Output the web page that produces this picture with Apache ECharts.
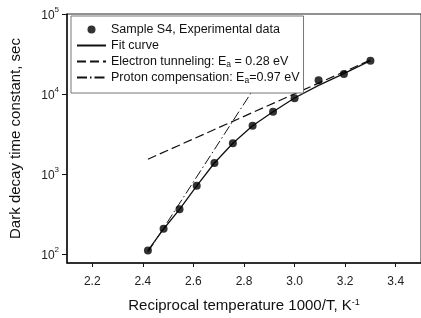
<!DOCTYPE html>
<html>
<head>
<meta charset="utf-8">
<script src="https://cdn.jsdelivr.net/npm/echarts@6/dist/echarts.min.js"></script>
<style>
html,body{margin:0;padding:0;background:#fff;}
#main{width:421px;height:318px;}
</style>
</head>
<body>
<div id="main"></div>
<script>
// experimental points (1000/T, sec)
var expX = [2.42, 2.482, 2.545, 2.613, 2.683, 2.756, 2.834, 2.915, 3.0, 3.095, 3.195, 3.30];
var expY = [110, 207, 362, 714, 1373, 2421, 4018, 6010, 8830, 14800, 17800, 26100];
// fit curve
var fitY = [110, 205, 360, 710, 1370, 2420, 4000, 6000, 8900, 12800, 18000, 26100];
// electron tunneling, Ea = 0.28 eV
var elX = [2.42, 3.30];
var elY = [1530, 26600];
// proton compensation, Ea = 0.97 eV
var prX = [2.42, 2.95];
var prY = [105, 40700];

function pairs(xs, ys) {
    var out = [];
    for (var i = 0; i < xs.length; i++) {
        out.push([xs[i], ys[i]]);
    }
    return out;
}

var font = 'Liberation Sans, Arial, sans-serif';
var noDot = {color: 'rgba(0,0,0,0)', borderWidth: 0};
var myChart = echarts.init(document.getElementById('main'));
myChart.setOption({
    animation: false,
    grid: {
        left: 66, top: 14, right: -3, bottom: 55,
        show: true, borderColor: '#222', borderWidth: 1
    },
    legend: {
        orient: 'vertical',
        left: 71, top: 16,
        itemWidth: 29, itemHeight: 8, itemGap: 1,
        padding: [6, 4, 8, 5],
        backgroundColor: '#fff',
        borderColor: '#777', borderWidth: 1,
        textStyle: {
            fontFamily: font, fontSize: 12.5, color: '#111', lineHeight: 15,
            rich: {
                n: {fontFamily: font, fontSize: 12.5, color: '#111', lineHeight: 15},
                s: {fontFamily: font, fontSize: 8.5, color: '#111', verticalAlign: 'bottom', lineHeight: 11}
            }
        },
        formatter: function (name) {
            if (name.indexOf('Electron') === 0) return '{n|Electron tunneling: E}{s|a}{n| = 0.28 eV}';
            if (name.indexOf('Proton') === 0) return '{n|Proton compensation: E}{s|a}{n|=0.97 eV}';
            return name;
        },
        data: [
            'Sample S4, Experimental data',
            {name: 'Fit curve', itemStyle: noDot},
            {name: 'Electron tunneling', itemStyle: noDot},
            {name: 'Proton compensation', itemStyle: noDot}
        ]
    },
    xAxis: {
        type: 'value',
        min: 2.1, max: 3.5, splitNumber: 7,
        name: '{n|Reciprocal temperature 1000/T, K}{s|-1}',
        nameLocation: 'middle', nameGap: 35,
        nameTextStyle: {
            rich: {
                n: {fontFamily: font, fontSize: 15, color: '#111'},
                s: {fontFamily: font, fontSize: 9, color: '#111', verticalAlign: 'top'}
            }
        },
        axisLine: {lineStyle: {color: '#111', width: 1.5}},
        axisTick: {inside: false, length: 4, lineStyle: {color: '#111'}},
        axisLabel: {
            fontFamily: font, fontSize: 12, color: '#222', margin: 13,
            showMinLabel: false, showMaxLabel: false,
            formatter: function (v) { return v.toFixed(1); }
        },
        splitLine: {show: false}
    },
    yAxis: {
        type: 'log',
        min: 77, max: 100000,
        name: 'Dark decay time constant, sec',
        nameLocation: 'middle', nameGap: 44,
        nameTextStyle: {fontFamily: font, fontSize: 15, color: '#111'},
        axisLine: {show: true, lineStyle: {color: '#111', width: 1.5}},
        axisTick: {inside: false, length: 5, lineStyle: {color: '#111'}},
        axisLabel: {
            showMinLabel: false, margin: 8,
            formatter: function (v) {
                return '{b|10}{e|' + Math.round(Math.log10(v)) + '}';
            },
            rich: {
                b: {fontFamily: font, fontSize: 12, color: '#222', padding: [4, 0, 0, 0]},
                e: {fontFamily: font, fontSize: 8, color: '#222', verticalAlign: 'top'}
            }
        },
        splitLine: {show: false}
    },
    series: [
        {
            name: 'Fit curve',
            type: 'line',
            symbol: 'none',
            data: pairs(expX, fitY),
            lineStyle: {color: '#111', width: 1.3},
            itemStyle: {color: '#111'},
            z: 3
        },
        {
            name: 'Electron tunneling',
            type: 'line',
            symbol: 'none',
            data: pairs(elX, elY),
            lineStyle: {color: '#111', width: 1.2, type: [9, 4]},
            itemStyle: {color: '#111'},
            z: 2
        },
        {
            name: 'Proton compensation',
            type: 'line',
            symbol: 'none',
            data: pairs(prX, prY),
            lineStyle: {color: '#111', width: 1, type: [10, 3, 1.5, 3]},
            itemStyle: {color: '#111'},
            z: 2
        },
        {
            name: 'Sample S4, Experimental data',
            type: 'scatter',
            symbol: 'circle',
            symbolSize: 8,
            data: pairs(expX, expY),
            itemStyle: {color: '#000'},
            z: 4
        }
    ]
});
</script>
</body>
</html>
